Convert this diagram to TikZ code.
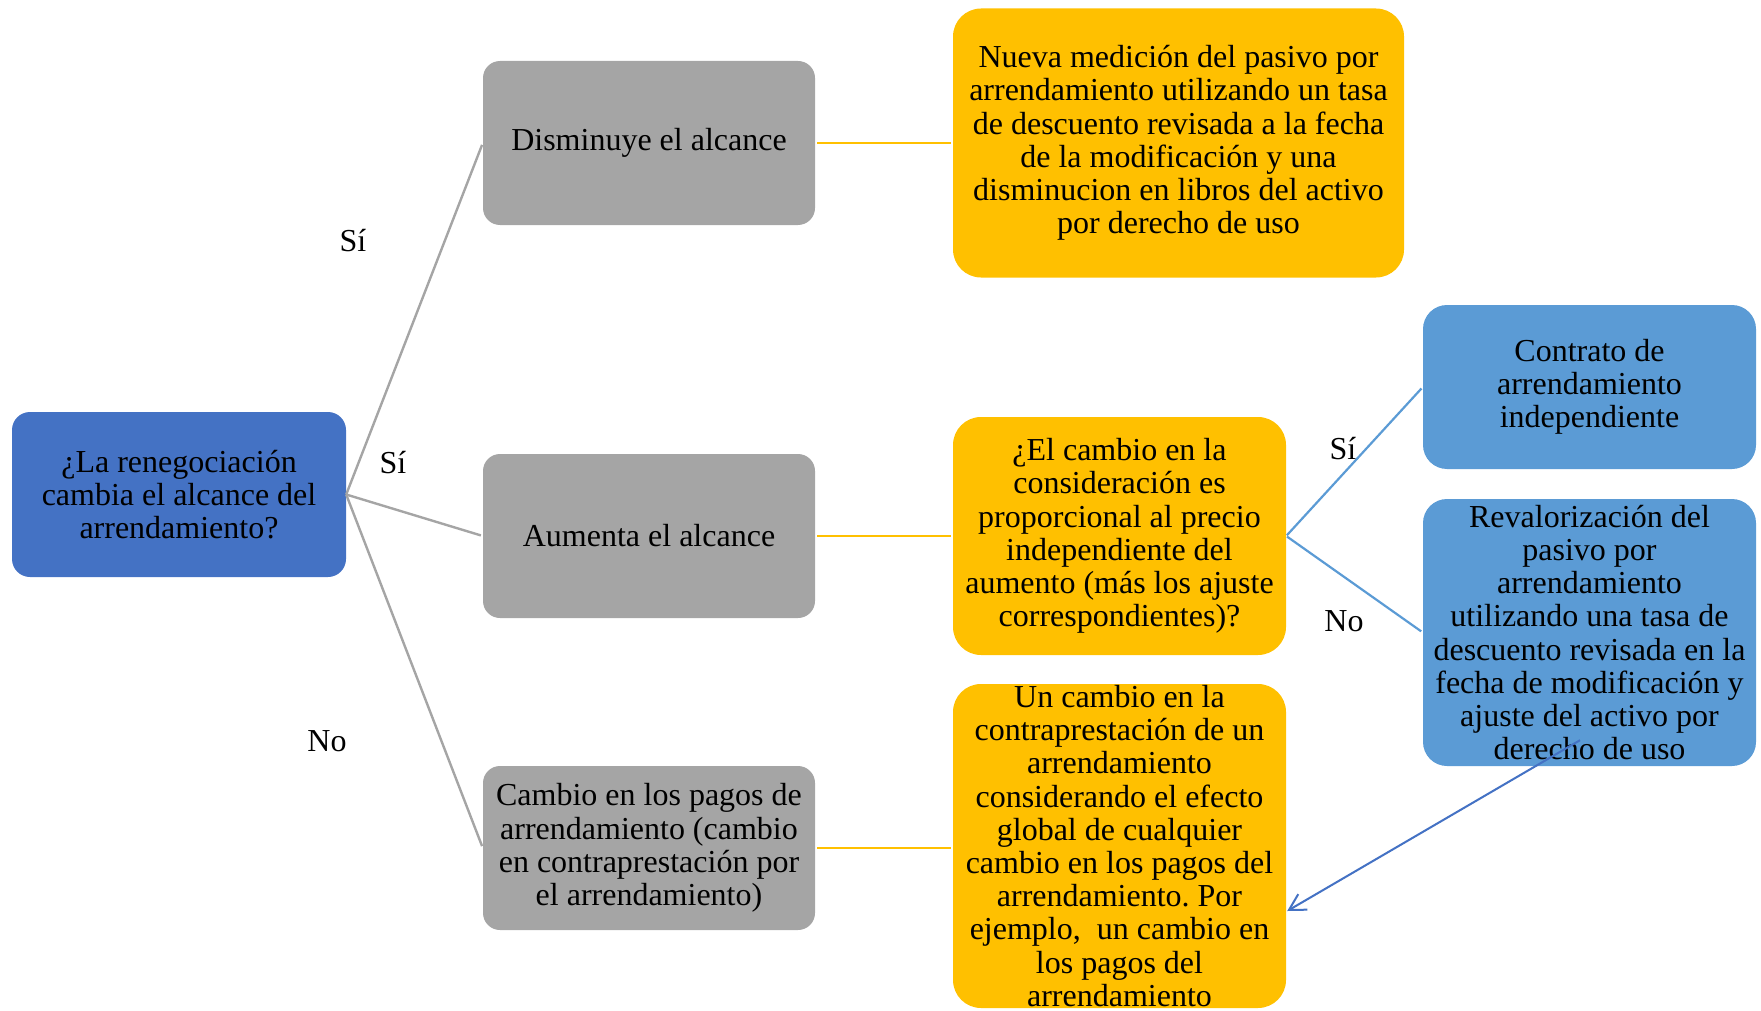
\documentclass[tikz,border=0pt]{standalone}
\usepackage{fontspec}
\setmainfont{Liberation Serif}
\usetikzlibrary{arrows.meta,calc}
\definecolor{rootblue}{HTML}{4472C4}
\definecolor{boxgray}{HTML}{A5A5A5}
\definecolor{boxyellow}{HTML}{FFC000}
\definecolor{boxblue}{HTML}{5B9BD5}
\frenchspacing
\begin{document}
\begin{tikzpicture}[x=1pt,y=-1pt,
  txt/.style={font=\fontsize{32}{33.2}\selectfont, align=center, text=black},
  box/.style={txt, inner sep=0pt, draw=none},
  rootbox/.style={box, fill=rootblue, rounded corners=18pt, minimum width=334pt, minimum height=165pt},
  graybox/.style={box, fill=boxgray, rounded corners=17pt, minimum width=332pt, minimum height=164pt},
  yelbox/.style={box, fill=boxyellow, rounded corners=28pt},
  bluebox/.style={box, fill=boxblue, rounded corners=24pt, minimum width=333pt},
  lbl/.style={txt, inner sep=0pt},
  grayline/.style={draw=boxgray, line width=2.4pt, shorten >=2pt},
  yelline/.style={draw=boxyellow, line width=2.4pt, shorten >=2pt, shorten <=2pt},
  blueline/.style={draw=boxblue, line width=2.2pt, shorten >=2pt, shorten <=1pt},
  arrowline/.style={draw=rootblue, line width=2pt, -{Straight Barb[length=16pt,width=18pt,line width=2pt]}}
]
\useasboundingbox (0,0) rectangle (1761,1011);

% boxes
\node[rootbox] (root) at (179,494.5) {¿La renegociación\\cambia el alcance del\\arrendamiento?};
\node[graybox] (g1) at (649,143) {Disminuye el alcance};
\node[graybox] (g2) at (649,536) {Aumenta el alcance};
\node[graybox] (g3) at (649,848) {Cambio en los pagos de\\arrendamiento (cambio\\en contraprestación por\\el arrendamiento)};
\node[yelbox, minimum width=451pt, minimum height=269pt] (y1) at (1178.5,143)
  {Nueva medición del pasivo por\\arrendamiento utilizando un tasa\\de descuento revisada a la fecha\\de la modificación y una\\disminucion en libros del activo\\por derecho de uso};
\node[yelbox, minimum width=333pt, minimum height=238pt] (y2) at (1119.5,536)
  {¿El cambio en la\\consideración es\\proporcional al precio\\independiente del\\aumento (más los ajuste\\correspondientes)?};
\node[yelbox, minimum width=333pt, minimum height=324pt] (y3) at (1119.5,846)
  {Un cambio en la\\contraprestación de un\\arrendamiento\\considerando el efecto\\global de cualquier\\cambio en los pagos del\\arrendamiento. Por\\ejemplo,\ \ un cambio en\\los pagos del\\arrendamiento};
\node[bluebox, minimum height=164pt] (b1) at (1589.5,387)
  {Contrato de\\arrendamiento\\independiente};
\node[bluebox, minimum height=267pt] (b2) at (1589.5,632.5)
  {Revalorización del\\pasivo por\\arrendamiento\\utilizando una tasa de\\descuento revisada en la\\fecha de modificación y\\ajuste del activo por\\derecho de uso};

% connectors
\draw[grayline] (root.east) -- (g1.west);
\draw[grayline] (root.east) -- (g2.west);
\draw[grayline] (root.east) -- (g3.west);
\draw[yelline] (g1.east) -- (y1.west);
\draw[yelline] (g2.east) -- (y2.west);
\draw[yelline] (g3.east) -- (y3.west |- g3.east);
\draw[blueline] (y2.east) -- (b1.west);
\draw[blueline] (y2.east) -- (b2.west);

\coordinate (arrs) at ($(b2.south)+(-9.5,-26)$);
\coordinate (arre) at ($(y3.east)+(1,65)$);
\draw[arrowline] (arrs) -- (arre);

% labels
\node[lbl] (l1) at (353,241) {Sí};
\node[lbl] (l2) at (393,463) {Sí};
\node[lbl] (l3) at (327,741) {No};
\node[lbl] (l4) at (1343,449) {Sí};
\node[lbl] (l5) at (1344,621) {No};
\end{tikzpicture}
\end{document}
